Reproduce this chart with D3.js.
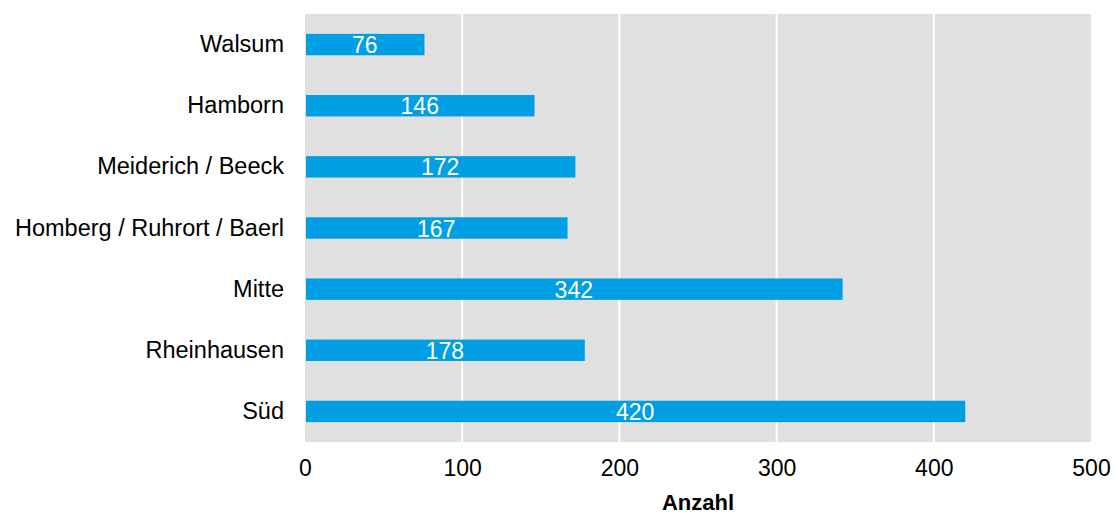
<!DOCTYPE html>
<html><head><meta charset="utf-8">
<script src="https://cdn.jsdelivr.net/npm/d3@7"></script>
<style>body{margin:0;background:#fff}svg{display:block}text{font-family:"Liberation Sans",Arial,sans-serif}</style>
</head><body>
<svg id="c" width="1114" height="516"></svg>
<script>
const categories = ["Walsum","Hamborn","Meiderich / Beeck","Homberg / Ruhrort / Baerl","Mitte","Rheinhausen","Süd"];
const values = [76,146,172,167,342,178,420];
const xTicks = [0,100,200,300,400,500];
const xTitle = "Anzahl";

const svg = d3.select("#c");
const L=305, R=1091, T=14, B=442;
const FS=23;
const x = d3.scaleLinear().domain([0,500]).range([L,R]);
const y = d3.scaleBand().domain(categories).range([T,B]).paddingInner(0.65).paddingOuter(0.325);

svg.append("rect").attr("x",L).attr("y",T).attr("width",R-L).attr("height",B-T).attr("fill","#e0e0e0");
svg.selectAll("line.grid").data(xTicks.slice(1,-1)).join("line")
  .attr("x1",d=>x(d)).attr("x2",d=>x(d)).attr("y1",T).attr("y2",B)
  .attr("stroke","#fff").attr("stroke-width",2);

const data = categories.map((c,i)=>({c,v:values[i]}));
svg.selectAll("rect.bar").data(data).join("rect")
  .attr("x",x(0)+1).attr("y",d=>y(d.c)).attr("width",d=>x(d.v)-x(0)-1).attr("height",y.bandwidth())
  .attr("fill","#009fe3");
svg.selectAll("text.val").data(data).join("text")
  .attr("x",d=>(x(0)+x(d.v))/2).attr("y",d=>y(d.c)+y.bandwidth()/2+8.5)
  .attr("text-anchor","middle").attr("fill","#fff").attr("font-size",FS).text(d=>d.v);

const yAxis = svg.append("g").attr("transform",`translate(${L},0)`).call(d3.axisLeft(y).tickSize(0).tickPadding(21));
yAxis.select(".domain").remove();
yAxis.selectAll("text").attr("font-size",23.5).attr("fill","#000").style("font-family","Liberation Sans, Arial, sans-serif");

const xAxis = svg.append("g").attr("transform",`translate(0,${B})`).call(d3.axisBottom(x).tickValues(xTicks).tickSize(0).tickPadding(18));
xAxis.select(".domain").remove();
xAxis.selectAll("text").attr("font-size",FS).attr("fill","#000").style("font-family","Liberation Sans, Arial, sans-serif");

svg.append("text").attr("x",(L+R)/2).attr("y",510).attr("text-anchor","middle")
  .attr("font-size",22).attr("font-weight","bold").text(xTitle);
</script>
</body></html>
